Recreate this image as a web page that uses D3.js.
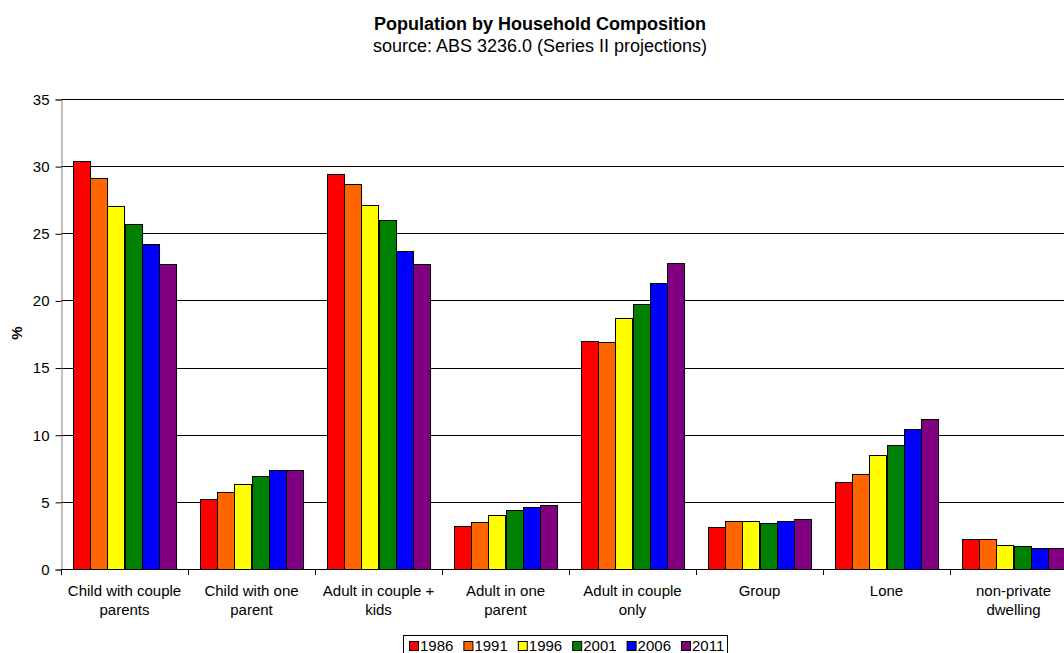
<!DOCTYPE html>
<html>
<head>
<meta charset="utf-8">
<script src="https://cdn.jsdelivr.net/npm/d3@7"></script>
<style>
body { margin: 0; background: #fff; }
text { font-family: "Liberation Sans", Arial, sans-serif; fill: #000; }
</style>
</head>
<body>
<div id="chart"></div>
<script>
// categories (wrapped label lines) and series
var categories = ["Child with couple parents", "Child with one parent", "Adult in couple + kids",
  "Adult in one parent", "Adult in couple only", "Group", "Lone", "non-private dwelling"]
var catLines = [["Child with couple", "parents"], ["Child with one", "parent"], ["Adult in couple +", "kids"],
  ["Adult in one", "parent"], ["Adult in couple", "only"], ["Group"], ["Lone"], ["non-private", "dwelling"]]
var years = ["1986", "1991", "1996", "2001", "2006", "2011"]
var colors = ["#ff0000", "#ff6600", "#ffff00", "#008000", "#0000ff", "#800080"]

// values per year, one per category
var v1986 = [30.4, 5.2, 29.4, 3.2, 17.0, 3.1, 6.5, 2.2]
var v1991 = [29.1, 5.7, 28.7, 3.5, 16.9, 3.6, 7.1, 2.2]
var v1996 = [27.0, 6.3, 27.1, 4.0, 18.7, 3.6, 8.5, 1.8]
var v2001 = [25.7, 6.9, 26.0, 4.4, 19.7, 3.4, 9.2, 1.7]
var v2006 = [24.2, 7.4, 23.7, 4.6, 21.3, 3.6, 10.4, 1.6]
var v2011 = [22.7, 7.4, 22.7, 4.8, 22.8, 3.7, 11.2, 1.6]
var yTicks = [0, 5, 10, 15, 20, 25, 30, 35]

var series = [v1986, v1991, v1996, v2001, v2006, v2011]

var W = 1064, H = 653
var margin = {top: 99, left: 61}
var plotRight = 1077, plotBottom = 569

var svg = d3.select("#chart").append("svg")
  .attr("width", W).attr("height", H)

// titles
svg.append("text").attr("x", 540).attr("y", 30).attr("text-anchor", "middle")
  .style("font-size", "18px").style("font-weight", "bold")
  .text("Population by Household Composition")
svg.append("text").attr("x", 540).attr("y", 52).attr("text-anchor", "middle")
  .style("font-size", "18px")
  .text("source: ABS 3236.0 (Series II projections)")

var x0 = d3.scaleBand().domain(categories).range([margin.left, plotRight]).padding(0)
var x1 = d3.scaleBand().domain(years).range([0, x0.bandwidth()]).paddingInner(0).paddingOuter(0.73)
var y = d3.scaleLinear().domain([0, 35]).range([plotBottom, margin.top])

// gridlines
svg.append("g").selectAll("line").data(yTicks.slice(1)).enter().append("line")
  .attr("x1", margin.left).attr("x2", plotRight)
  .attr("y1", function(d) { return Math.round(y(d)) + 0.5 })
  .attr("y2", function(d) { return Math.round(y(d)) + 0.5 })
  .attr("stroke", "#000").attr("stroke-width", 1)

// y axis
var yAxis = svg.append("g")
  .attr("transform", "translate(" + (margin.left + 0.5) + ",0.5)")
  .call(d3.axisLeft(y).tickValues(yTicks).tickSize(6).tickPadding(6).tickFormat(d3.format("d")))
yAxis.select(".domain").attr("stroke", "#808080")
yAxis.selectAll(".tick line").attr("stroke", "#000")
yAxis.selectAll("text").style("font-size", "15px").attr("font-family", null)

svg.append("text")
  .attr("transform", "translate(22,333) rotate(-90)")
  .attr("text-anchor", "middle")
  .style("font-size", "15px").style("font-weight", "bold")
  .text("%")

// bars
var rows = []
categories.forEach(function(c, i) {
  years.forEach(function(yr, j) {
    rows.push({cat: c, year: yr, value: series[j][i], color: colors[j]})
  })
})

svg.append("g").selectAll("rect").data(rows).enter().append("rect")
  .attr("x", function(d) { return Math.round(x0(d.cat) + x1(d.year)) + 0.5 })
  .attr("width", x1.bandwidth())
  .attr("y", function(d) { return Math.round(y(d.value)) + 0.5 })
  .attr("height", function(d) { return plotBottom - Math.round(y(d.value)) })
  .attr("fill", function(d) { return d.color })
  .attr("stroke", "#000").attr("stroke-width", 1)

// x axis
var xg = svg.append("g")
xg.append("line").attr("x1", margin.left).attr("x2", plotRight)
  .attr("y1", plotBottom + 0.5).attr("y2", plotBottom + 0.5).attr("stroke", "#000")
xg.selectAll(".xt").data(categories).enter().append("line")
  .attr("x1", function(d) { return Math.round(x0(d)) + 0.5 })
  .attr("x2", function(d) { return Math.round(x0(d)) + 0.5 })
  .attr("y1", plotBottom).attr("y2", plotBottom + 6).attr("stroke", "#000")

var labels = xg.selectAll(".xl").data(categories).enter().append("text")
  .attr("text-anchor", "middle")
  .style("font-size", "15px")
labels.each(function(d, i) {
  var t = d3.select(this)
  catLines[i].forEach(function(line, k) {
    t.append("tspan").attr("x", x0(d) + x0.bandwidth() / 2)
      .attr("y", 596 + k * 19).text(line)
  })
})

// legend
var lg = svg.append("g").attr("transform", "translate(403,635)")
lg.append("rect").attr("x", 0.5).attr("y", 0.5).attr("width", 324).attr("height", 22)
  .attr("fill", "#fff").attr("stroke", "#000")
years.forEach(function(yr, j) {
  var item = lg.append("g").attr("transform", "translate(" + (6 + j * 54.4) + ",0)")
  item.append("rect").attr("x", 0.5).attr("y", 6.5).attr("width", 9).attr("height", 9)
    .attr("fill", colors[j]).attr("stroke", "#000")
  item.append("text").attr("x", 11).attr("y", 15.5).style("font-size", "15px").text(yr)
})
</script>
</body>
</html>
